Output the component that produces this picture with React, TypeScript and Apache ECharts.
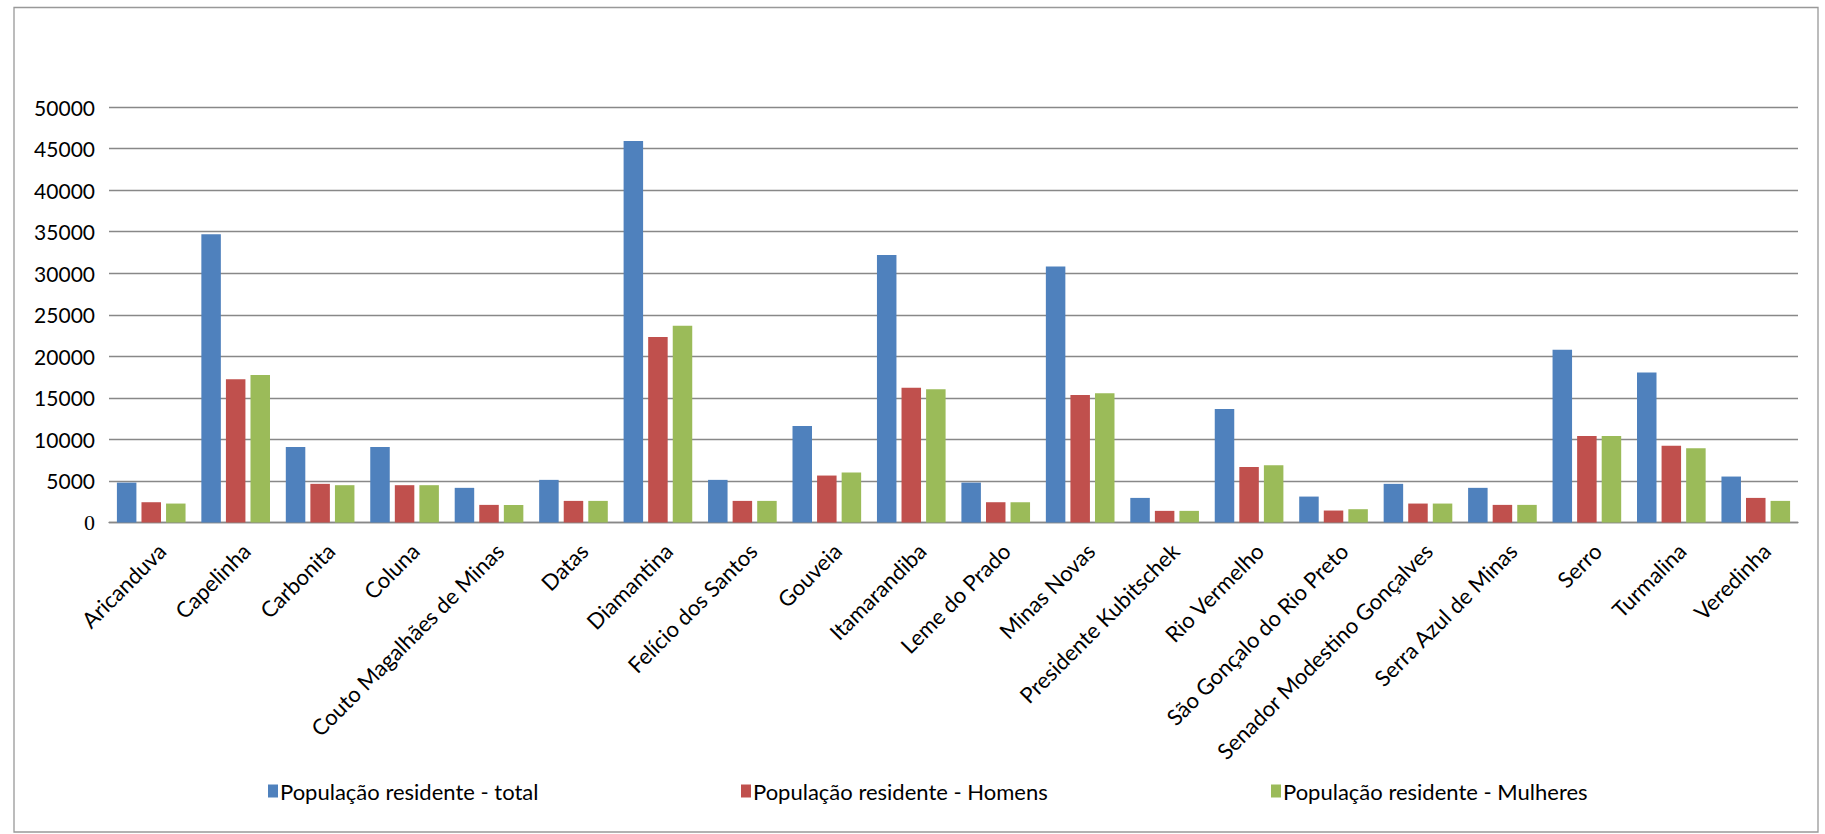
import React, { useEffect, useRef } from "react";
import * as echarts from "echarts";

const categories = [
  "Aricanduva", "Capelinha", "Carbonita", "Coluna", "Couto Magalhães de Minas",
  "Datas", "Diamantina", "Felício dos Santos", "Gouveia", "Itamarandiba",
  "Leme do Prado", "Minas Novas", "Presidente Kubitschek", "Rio Vermelho",
  "São Gonçalo do Rio Preto", "Senador Modestino Gonçalves", "Serra Azul de Minas",
  "Serro", "Turmalina", "Veredinha",
];
const seriesNames = [
  "População residente - total",
  "População residente - Homens",
  "População residente - Mulheres",
];
const totalValues = [4800, 34700, 9100, 9100, 4170, 5130, 45900, 5130, 11600, 32200, 4800, 30800, 2960, 13650, 3120, 4650, 4170, 20800, 18050, 5530];
const menValues = [2440, 17230, 4650, 4490, 2120, 2600, 22320, 2600, 5650, 16230, 2440, 15350, 1400, 6690, 1440, 2280, 2120, 10420, 9250, 2960];
const womenValues = [2280, 17750, 4490, 4490, 2120, 2600, 23680, 2600, 6010, 16030, 2440, 15550, 1400, 6890, 1600, 2280, 2120, 10420, 8930, 2600];
const colors = ["#4F81BD", "#C0504D", "#9BBB59"];
const legendLeft = [263, 736, 1266];

const FONT = "Lato";

export default function App() {
  const ref = useRef<HTMLDivElement>(null);
  useEffect(() => {
    document.body.style.margin = "0";
    const chart = echarts.init(ref.current!, null, { renderer: "svg" });
    const data = [totalValues, menValues, womenValues];
    chart.setOption({
      animation: false,
      backgroundColor: "#ffffff",
      grid: { left: 109, right: 27, top: 107, bottom: 311.5, containLabel: false },
      legend: seriesNames.map((n, i) => ({
        data: [n],
        left: legendLeft[i],
        top: 775,
        itemWidth: 10,
        itemHeight: 13,
        icon: "rect",
        itemStyle: { borderWidth: 0 },
        textStyle: { fontFamily: FONT, fontSize: 22, color: "#000", padding: [0, 0, 0, -3] },
      })),
      xAxis: {
        type: "category",
        data: categories,
        axisLine: { lineStyle: { color: "#888", width: 1.3 } },
        axisTick: { show: false },
        axisLabel: {
          rotate: 45,
          interval: 0,
          margin: 14,
          verticalAlign: "top",
          padding: [4, 0, 0, 0],
          fontFamily: FONT,
          fontSize: 22,
          color: "#000",
        },
      },
      yAxis: {
        type: "value",
        min: 0,
        max: 50000,
        interval: 5000,
        axisLine: { show: false },
        axisTick: { show: false },
        splitLine: { lineStyle: { color: "#888", width: 1.3 } },
        axisLabel: {
          margin: 14,
          fontFamily: FONT,
          fontSize: 21,
          color: "#000",
          formatter: (v: number) => (v === 0 ? "{z|0}" : String(v)),
          rich: { z: { fontFamily: "Liberation Serif", fontSize: 22, color: "#000" } },
        },
      },
      series: seriesNames.map((n, i) => ({
        name: n,
        type: "bar",
        data: data[i],
        barWidth: 19.5,
        barGap: "26%",
        itemStyle: { color: colors[i] },
      })),
      graphic: [
        {
          type: "rect",
          shape: { x: 14, y: 7.5, width: 1804, height: 824.5 },
          style: { fill: "none", stroke: "#999", lineWidth: 1.3 },
          silent: true,
        },
      ],
    });
    return () => chart.dispose();
  }, []);
  return <div ref={ref} style={{ position: "fixed", left: 0, top: 0, width: 1825, height: 834 }} />;
}
